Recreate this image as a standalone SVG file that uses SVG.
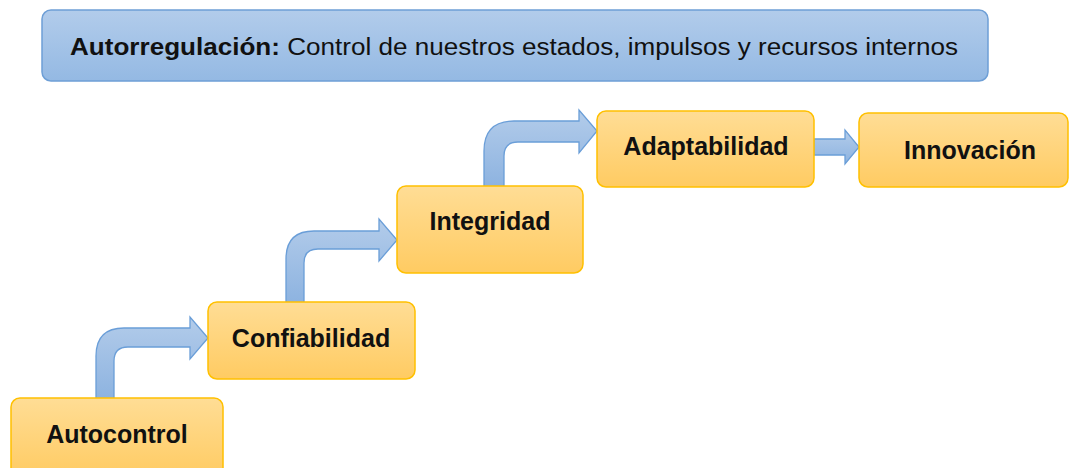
<svg xmlns="http://www.w3.org/2000/svg" width="1073" height="468" viewBox="0 0 1073 468">
<defs>
<linearGradient id="gBox" x1="0" y1="0" x2="0" y2="1">
<stop offset="0" stop-color="#FFDD95"/>
<stop offset="1" stop-color="#FFCB62"/>
</linearGradient>
<linearGradient id="gTitle" x1="0" y1="0" x2="0" y2="1">
<stop offset="0" stop-color="#B2CCEB"/>
<stop offset="1" stop-color="#94B9E3"/>
</linearGradient>
<linearGradient id="gArrow" x1="0" y1="0" x2="0" y2="1">
<stop offset="0" stop-color="#B3CCEA"/>
<stop offset="1" stop-color="#8DB3E0"/>
</linearGradient>
<style>
.box{fill:url(#gBox);stroke:#FFC000;stroke-width:1.5}
.title{fill:url(#gTitle);stroke:#6E9FD6;stroke-width:1.5}
.arr{fill:url(#gArrow);stroke:#6A9ED8;stroke-width:1.3;stroke-linejoin:miter}
.lbl{font-family:"Liberation Sans",Arial,sans-serif;font-weight:bold;font-size:25px;fill:#111;text-anchor:middle}
.tt{font-family:"Liberation Sans",Arial,sans-serif;font-size:23px;fill:#111}
</style>
</defs>
<g id="title">
<rect class="title" x="42" y="10" width="946" height="71" rx="9"/>
<text class="tt" x="70" y="55" textLength="888" lengthAdjust="spacingAndGlyphs"><tspan font-weight="bold">Autorregulación:</tspan> Control de nuestros estados, impulsos y recursos internos</text>
</g>
<g id="connectors">
<path class="arr" d="M96,399 V356 Q96,328 124,328 H190 V317 L208,338 L190,359 V347 H128 Q114,347 114,361 V399 Z"/>
<path class="arr" d="M286,303 V259 Q286,231 314,231 H379 V219 L397,240 L379,261 V249 H318 Q304,249 304,263 V303 Z"/>
<path class="arr" d="M484,187 V151 Q484,121 514,121 H579 V110 L597,131 L579,153 V142 H518 Q504,142 504,156 V187 Z"/>
<path class="arr" d="M814,139 H845 V130 L859,147 L845,164 V155 H814 Z"/>
</g>
<g id="autocontrol">
<rect class="box" x="11" y="398" width="212" height="80" rx="9"/>
<text class="lbl" x="117" y="443">Autocontrol</text>
</g>
<g id="confiabilidad">
<rect class="box" x="208" y="302" width="207" height="77" rx="9"/>
<text class="lbl" x="311" y="347">Confiabilidad</text>
</g>
<g id="integridad">
<rect class="box" x="397" y="186" width="186" height="87" rx="9"/>
<text class="lbl" x="490" y="230">Integridad</text>
</g>
<g id="adaptabilidad">
<rect class="box" x="597" y="111" width="217" height="76" rx="9"/>
<text class="lbl" x="706" y="155">Adaptabilidad</text>
</g>
<g id="innovacion">
<rect class="box" x="859" y="113" width="209" height="74" rx="9"/>
<text class="lbl" x="970" y="159">Innovación</text>
</g>
</svg>
